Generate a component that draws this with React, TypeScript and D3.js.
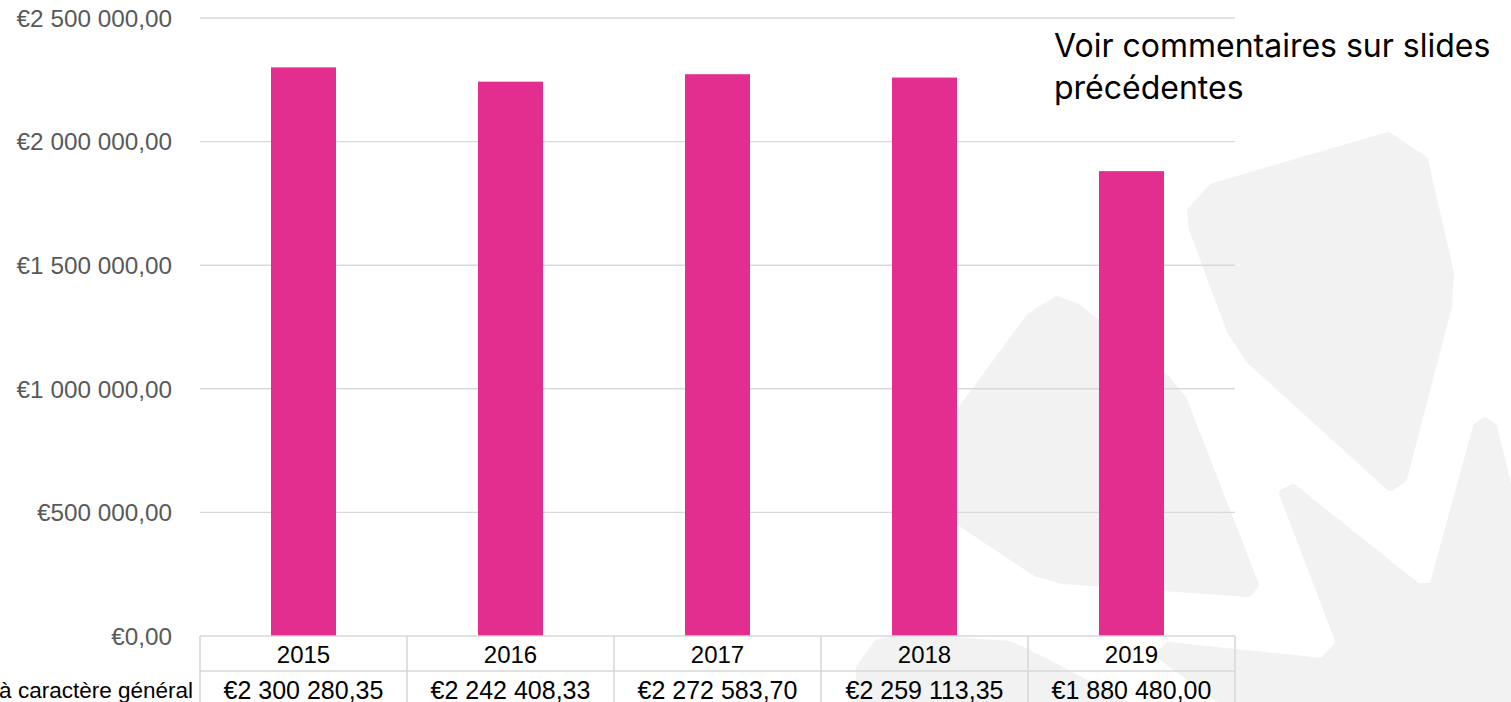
import React from "react";
import * as d3 from "d3";

const years = ["2015", "2016", "2017", "2018", "2019"];
const chargesGenerales = [2300280.35, 2242408.33, 2272583.7, 2259113.35, 1880480.0];
const yTicks = [0, 500000, 1000000, 1500000, 2000000, 2500000];
const seriesLabel = "Charges à caractère général";
const note = ["Voir commentaires sur slides", "précédentes"];

// decorative watermark outlines
const wmShapes: [number, number][][] = [
  [[1213,187],[1388,136],[1424,160],[1450,273],[1448,306],[1403,479],[1390,487],[1250,360],[1231,331],[1193,229],[1191,211]],
  [[1057,300],[1030,317],[910,480],[915,495],[957,520],[1037,573],[1063,580],[1248,593],[1255,585],[1183,400],[1166,379],[1078,308]],
  [[1293,488],[1417,587],[1433,587],[1477,427],[1485,421],[1493,427],[1511,500],[1511,702],[1224,702],[1160,655],[1168,646],[1323,662],[1340,643],[1283,493]],
  [[860,702],[860,668],[878,643],[910,638],[1010,645],[1045,662],[1120,702]],
];

const W = 1511, H = 702;
const left = 200, right = 1235, top = 18, bottom = 636;

const fr = d3.formatLocale({ decimal: ",", thousands: "\u00a0", grouping: [3], currency: ["€", ""] });
const fmt = fr.format("$,.2f");
const fmtTxt = (v: number) => fmt(v).replace(/\u00a0/g, " ");

export default function App() {
  const x = d3.scaleBand<string>().domain(years).range([left, right]).paddingInner(0).paddingOuter(0);
  const y = d3.scaleLinear().domain([0, 2500000]).range([bottom, top]);
  const barW = x.bandwidth() * 0.314;
  const row1 = 671;
  const wmColor = "#f1f2f1";
  const gridColor = "#d9d9d9";
  const line = d3.line();

  return (
    <svg width={W} height={H} style={{ position: "absolute", left: 0, top: 0 }} xmlns="http://www.w3.org/2000/svg">
      <rect x={0} y={0} width={W} height={H} fill="#ffffff" />
      <g>
        {wmShapes.map((s, i) => (
          <path key={i} d={line(s) + "Z"} fill={wmColor} stroke={wmColor} strokeWidth={8} strokeLinejoin="round" />
        ))}
      </g>
      <g>
        {yTicks.map((t) => (
          <g key={t}>
            {t > 0 && <line x1={left} x2={right} y1={y(t)} y2={y(t)} stroke={gridColor} strokeWidth={1.4} />}
            <text x={172} y={y(t)} dy="0.36em" textAnchor="end" fill="#595959" fontFamily="'Liberation Sans', Arial, sans-serif" fontSize={24.3}>
              {fmtTxt(t)}
            </text>
          </g>
        ))}
      </g>
      <g>
        {years.map((yr, i) => {
          const cx = (x(yr) as number) + x.bandwidth() / 2;
          return (
            <rect key={yr} x={cx - barW / 2} y={y(chargesGenerales[i])} width={barW} height={bottom - y(chargesGenerales[i])} fill="#e32e8f" />
          );
        })}
      </g>
      <g stroke={gridColor} strokeWidth={1.6}>
        <line x1={left} x2={right} y1={bottom} y2={bottom} />
        <line x1={left} x2={right} y1={row1} y2={row1} />
        {[...years.map((yr) => x(yr) as number), right].map((vx, i) => (
          <line key={i} x1={vx} x2={vx} y1={bottom} y2={H} />
        ))}
      </g>
      <g fontFamily="'Liberation Sans', Arial, sans-serif" fill="#000">
        {years.map((yr, i) => {
          const cx = (x(yr) as number) + x.bandwidth() / 2;
          return (
            <g key={yr}>
              <text x={cx} y={654} dy="0.36em" textAnchor="middle" fontSize={24}>{yr}</text>
              <text x={cx} y={689.5} dy="0.36em" textAnchor="middle" fontSize={25}>{fmtTxt(chargesGenerales[i])}</text>
            </g>
          );
        })}
        <text x={193} y={689.5} dy="0.36em" textAnchor="end" fontSize={22.5}>{seriesLabel}</text>
      </g>
      <g fontFamily="Inter, 'Liberation Sans', sans-serif" fontSize={32} fill="#000">
        {note.map((t, i) => (
          <text key={i} x={1054} y={45 + i * 42} dy="0.36em">{t}</text>
        ))}
      </g>
    </svg>
  );
}
